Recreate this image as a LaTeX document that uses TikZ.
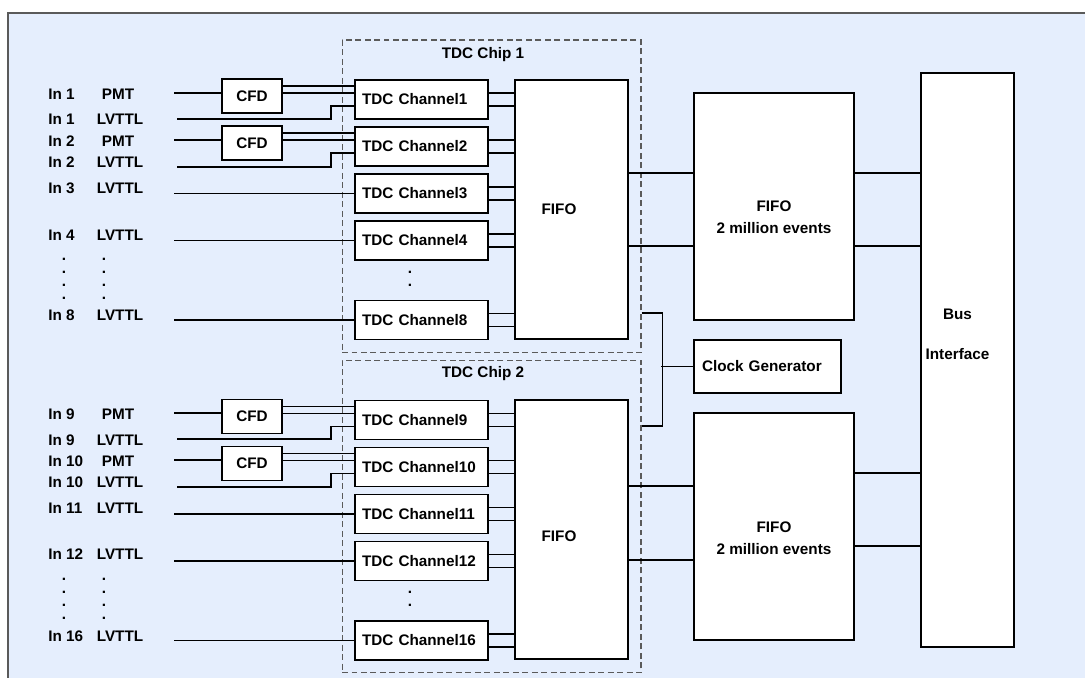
\documentclass[tikz,border=0pt]{standalone}
\usepackage{fontspec}
\setmainfont{Liberation Sans}
\usepackage{xcolor}
\usepackage{tikz}
\definecolor{bgblue}{HTML}{E5EEFD}
\definecolor{rim}{HTML}{5A5A5A}
\tikzstyle{every node}=[font=\fontsize{8.7}{10.4}\selectfont\bfseries]
\tikzstyle{box}=[rectangle,draw=black,fill=white,line width=1.1pt,inner sep=0pt]
\tikzstyle{cfd}=[box,minimum width=1.2cm,minimum height=0.68cm]
\tikzstyle{chan}=[box,minimum width=2.66cm,minimum height=0.78cm,text width=2.38cm,align=left]
\tikzstyle{fifo}=[box,minimum width=2.26cm,minimum height=5.18cm]
\tikzstyle{big}=[box,minimum width=3.2cm,minimum height=4.54cm]
\tikzstyle{clk}=[box,minimum width=2.94cm,minimum height=1.06cm,text width=2.62cm,align=left]
\tikzstyle{bus}=[box,minimum width=1.86cm,minimum height=11.48cm]
\tikzstyle{chip}=[rectangle,draw=rim,dash pattern=on 3.4pt off 2pt,line width=0.6pt,minimum width=5.98cm,minimum height=6.26cm]
\tikzstyle{wire}=[black,line width=0.95pt]
\tikzstyle{lbl}=[inner sep=0pt]
\tikzstyle{dots}=[inner sep=0pt,align=center,font=\fontsize{8.7}{7.4}\selectfont\bfseries]

\begin{document}
\begin{tikzpicture}[x=0.02cm,y=-0.02cm]
  \useasboundingbox (0,0) rectangle (1085,678);
  \fill[bgblue] (8,13) rectangle (1085,678);
  \draw[rim,line width=0.8pt] (8,678) -- (8,13) -- (1085,13);

  % chips
  \node at (491.5,196.5) [chip] (chip1) {};
  \node at (491.5,516.5) [chip] (chip2) {};
  \node at (483, 55) (chip1t) {TDC Chip 1};
  \node at (483,374) (chip2t) {TDC Chip 2};

  % channels
  \node at (421.5, 99.5) [chan] (ch1)  {TDC Channel1};
  \node at (421.5,146.5) [chan] (ch2)  {TDC Channel2};
  \node at (421.5,193.5) [chan] (ch3)  {TDC Channel3};
  \node at (421.5,240.5) [chan] (ch4)  {TDC Channel4};
  \node at (421.5,320)   [chan] (ch8)  {TDC Channel8};
  \node at (421.5,420)   [chan] (ch9)  {TDC Channel9};
  \node at (421.5,467)   [chan] (ch10) {TDC Channel10};
  \node at (421.5,514)   [chan] (ch11) {TDC Channel11};
  \node at (421.5,561)   [chan] (ch12) {TDC Channel12};
  \node at (421.5,640.5) [chan] (ch16) {TDC Channel16};
  \node at (410,279) [dots] (dc1) {.\\.};
  \node at (410,599) [dots] (dc2) {.\\.};

  \node at (571.5,209.5) [fifo,label={[xshift=-0.25cm]center:FIFO}] (fifo1) {};
  \node at (571.5,529.5) [fifo,label={[xshift=-0.25cm,yshift=-0.13cm]center:FIFO}] (fifo2) {};
  \node at (774,206.5) [big,label={[align=center,yshift=-0.22cm]center:FIFO\\[2pt]2 million events}] (big1) {};
  \node at (774,526.5) [big,label={[align=center,yshift=-0.23cm]center:FIFO\\[2pt]2 million events}] (big2) {};
  \node at (767.5,366.5) [clk] (clock) {Clock Generator};
  \node at (967.5,360) [bus,label={[align=center,xshift=-0.2cm,yshift=0.52cm]center:Bus\\[12.4pt]Interface}] (bus) {};

  % CFDs
  \node at (252, 96)   [cfd] (cfd1)  {CFD};
  \node at (252,143)   [cfd] (cfd2)  {CFD};
  \node at (252,416.5) [cfd] (cfd9)  {CFD};
  \node at (252,463.5) [cfd] (cfd10) {CFD};

  % input labels
  \node at (48, 94) [lbl,anchor=west] (in1p)  {In 1};
  \node at (48,119) [lbl,anchor=west] (in1l)  {In 1};
  \node at (48,141) [lbl,anchor=west] (in2p)  {In 2};
  \node at (48,162) [lbl,anchor=west] (in2l)  {In 2};
  \node at (48,188) [lbl,anchor=west] (in3l)  {In 3};
  \node at (48,235) [lbl,anchor=west] (in4l)  {In 4};
  \node at (48,315) [lbl,anchor=west] (in8l)  {In 8};
  \node at (48,414) [lbl,anchor=west] (in9p)  {In 9};
  \node at (48,440) [lbl,anchor=west] (in9l)  {In 9};
  \node at (48,461) [lbl,anchor=west] (in10p) {In 10};
  \node at (48,482) [lbl,anchor=west] (in10l) {In 10};
  \node at (48,508) [lbl,anchor=west] (in11l) {In 11};
  \node at (48,554) [lbl,anchor=west] (in12l) {In 12};
  \node at (48,636) [lbl,anchor=west] (in16l) {In 16};
  \node at (118, 94) [lbl] (ty1p)  {PMT};
  \node at (120,119) [lbl] (ty1l)  {LVTTL};
  \node at (118,141) [lbl] (ty2p)  {PMT};
  \node at (120,162) [lbl] (ty2l)  {LVTTL};
  \node at (120,188) [lbl] (ty3l)  {LVTTL};
  \node at (120,235) [lbl] (ty4l)  {LVTTL};
  \node at (120,315) [lbl] (ty8l)  {LVTTL};
  \node at (118,414) [lbl] (ty9p)  {PMT};
  \node at (120,440) [lbl] (ty9l)  {LVTTL};
  \node at (118,461) [lbl] (ty10p) {PMT};
  \node at (120,482) [lbl] (ty10l) {LVTTL};
  \node at (120,508) [lbl] (ty11l) {LVTTL};
  \node at (120,554) [lbl] (ty12l) {LVTTL};
  \node at (120,636) [lbl] (ty16l) {LVTTL};
  \node at (64,278.5)  [dots] (dn1) {.\\.\\.\\.};
  \node at (104,278.5) [dots] (dt1) {.\\.\\.\\.};
  \node at (64,598.5)  [dots] (dn2) {.\\.\\.\\.};
  \node at (104,598.5) [dots] (dt2) {.\\.\\.\\.};

  % input wires
  \coordinate (p1)  at (174, 93);
  \coordinate (l1)  at (177,119);
  \coordinate (p2)  at (174,140);
  \coordinate (l2)  at (177,167);
  \coordinate (s3)  at (174,193.5);
  \coordinate (s4)  at (174,240.5);
  \coordinate (s8)  at (174,320);
  \coordinate (p9)  at (174,413);
  \coordinate (l9)  at (177,439);
  \coordinate (p10) at (174,460);
  \coordinate (l10) at (177,487);
  \coordinate (s11) at (174,514);
  \coordinate (s12) at (174,561);
  \coordinate (s16) at (174,640.5);
  \foreach \n in {1,2,9,10} {
    \draw[wire] (p\n) -- (p\n -| cfd\n.west);
    \draw[wire] ([yshift=0.27cm]ch\n.west) -- ([yshift=0.27cm]ch\n.west -| cfd\n.east);
    \draw[wire] ([yshift=0.13cm]ch\n.west) -- ([yshift=0.13cm]ch\n.west -| cfd\n.east);
    \draw[wire] (l\n) -- ++(154,0) |- ([yshift=-0.13cm]ch\n.west);
  }
  \foreach \n in {3,4,8,11,12,16}
    \draw[wire] (s\n) -- (ch\n.west);

  % channels to fifo
  \foreach \n in {1,2,3,4,8} {
    \draw[wire] ([yshift=0.13cm]ch\n.east) -- ([yshift=0.13cm]ch\n.east -| fifo1.west);
    \draw[wire] ([yshift=-0.13cm]ch\n.east) -- ([yshift=-0.13cm]ch\n.east -| fifo1.west);
  }
  \foreach \n in {9,10,11,12,16} {
    \draw[wire] ([yshift=0.13cm]ch\n.east) -- ([yshift=0.13cm]ch\n.east -| fifo2.west);
    \draw[wire] ([yshift=-0.13cm]ch\n.east) -- ([yshift=-0.13cm]ch\n.east -| fifo2.west);
  }

  % fifo to big fifo to bus
  \draw[wire] ([yshift=0.67cm]big1.west) -- ([yshift=0.67cm]big1.west -| fifo1.east);
  \draw[wire] ([yshift=-0.79cm]big1.west) -- ([yshift=-0.79cm]big1.west -| fifo1.east);
  \draw[wire] ([yshift=0.67cm]big1.east) -- ([yshift=0.67cm]big1.east -| bus.west);
  \draw[wire] ([yshift=-0.79cm]big1.east) -- ([yshift=-0.79cm]big1.east -| bus.west);
  \draw[wire] ([yshift=0.81cm]big2.west) -- ([yshift=0.81cm]big2.west -| fifo2.east);
  \draw[wire] ([yshift=-0.67cm]big2.west) -- ([yshift=-0.67cm]big2.west -| fifo2.east);
  \draw[wire] ([yshift=1.07cm]big2.east) -- ([yshift=1.07cm]big2.east -| bus.west);
  \draw[wire] ([yshift=-0.39cm]big2.east) -- ([yshift=-0.39cm]big2.east -| bus.west);

  % clock
  \draw[wire] ([yshift=-2.33cm]chip1.east) -- ++(21,0) |- ([yshift=1.81cm]chip2.east);
  \draw[wire] (clock.west) -- ++(-32,0);
\end{tikzpicture}
\end{document}
